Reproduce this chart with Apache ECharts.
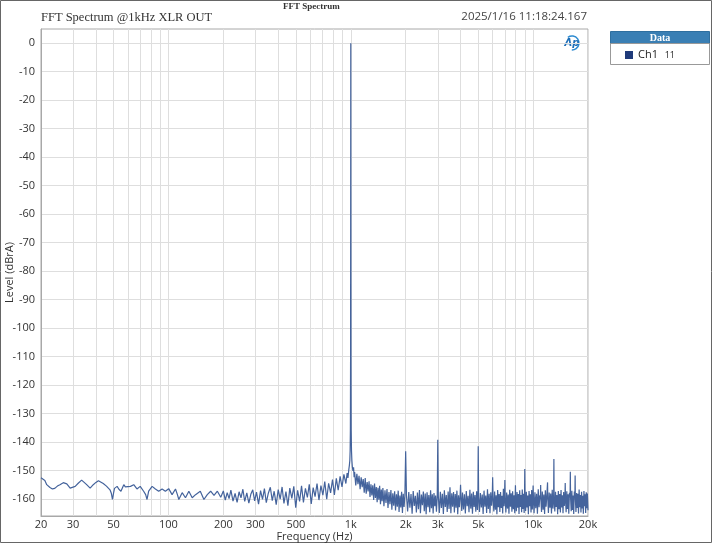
<!DOCTYPE html>
<html>
<head>
<meta charset="utf-8">
<script src="https://cdn.jsdelivr.net/npm/echarts@6.0.0/dist/echarts.min.js"></script>
<style>
html,body{margin:0;padding:0;background:#fff;}
#chart{width:713px;height:544px;}
</style>
</head>
<body>
<div id="chart"></div>
<script>
// ---- axis ticks ----
const xLabelTicks = [20, 30, 50, 100, 200, 300, 500, 1000, 2000, 3000, 5000, 10000, 20000];
const xGridTicks = [20, 30, 40, 50, 60, 70, 80, 90, 100, 200, 300, 400, 500, 600, 700, 800, 900,
  1000, 2000, 3000, 4000, 5000, 6000, 7000, 8000, 9000, 10000, 20000];
const yTicks = [0, -10, -20, -30, -40, -50, -60, -70, -80, -90, -100, -110, -120, -130, -140, -150, -160];

// ---- Ch1 spectrum, [frequency Hz, level dBrA] ----
const lowBand = [
  [20,-152.6],[21,-153.5],[21.5,-155],[22.4,-156],[23.1,-156.5],[23.8,-156.3],[24.6,-155.5],[25.4,-155],
  [26.5,-154.3],[27.7,-154.7],[28.9,-156.2],[29.5,-156.8],[30.8,-155.6],[32,-154.5],[33.4,-153.4],
  [34.5,-154.2],[35.6,-155],[37.2,-156.2],[38.7,-155],[40,-154.2],[41.3,-153.6],[42.2,-153.4],
  [43.9,-154.6],[45.7,-155.5],[47.8,-156.8],[48.6,-158],[49.3,-160.2],[50,-158],[50.6,-156.3],
  [52.3,-155.6],[53.5,-156.6],[54.9,-157.3],[56.9,-155],[58,-155.8],[59.3,-156.5],[61.9,-155.6],
  [64.5,-155],[67.2,-156.5],[70,-155.6],[73.1,-157.3],[75,-158.5],[76.3,-160.2],[77.9,-157.3],
  [81.4,-155.6],[84.8,-156.5],[88.4,-157.3],[92.3,-156.5],[96.2,-157.3],[100.3,-156.4],[104.7,-158.5],
  [109.3,-156.5],[112,-158.5],[114,-160.2],[118.9,-157.8],[124,-159.6],[129.4,-157.3],[135,-159.6],
  [140.8,-158.5],[149.5,-157.3],[156.5,-160.2],[163.3,-158.5],[170.4,-157.3],[177.8,-158.8],
  [185.5,-157.3],[193.6,-159.4]
];
const midBand = [
  [200,-157.2],[205,-160.4],[210,-157.8],[215,-159.9],[220,-156.9],[226,-160.8],[232,-158.1],[238,-161.2],
  [244,-157.5],[250,-159.6],[256,-156.6],[262,-160.9],[269,-157.9],[276,-161.5],[283,-158.4],[290,-156.8],
  [297,-160.7],[304,-157.6],[312,-161.8],[320,-157.1],[328,-160.2],[336,-156.4],[344,-161.3],[353,-158.0],
  [362,-155.9],[371,-160.6],[380,-157.3],[390,-162.0],[400,-156.7],[410,-160.1],[420,-155.8],[430,-161.6],
  [441,-157.4],[452,-162.4],[463,-156.2],[475,-159.8],[487,-155.6],[499,-163.1],[511,-157.0],[524,-160.9],
  [537,-155.4],[550,-161.2],[564,-156.3],[578,-159.5],[592,-154.9],[607,-161.8],[622,-156.0],[637,-159.2],
  [653,-154.6],[669,-160.4],[686,-155.3],[703,-158.7],[720,-153.9],[738,-160.1],[756,-154.5],[775,-157.9],
  [794,-153.2],[813,-158.6],[833,-152.8],[853,-156.9],[874,-152.1],[895,-155.8],[917,-151.4],[940,-154.6],
  [955,-150.9]
];
const fundamental = [
  [965,-152.6],[975,-149.8],[982,-148.3],[988,-146.5],[992,-143],[995,-136],[997.5,-110],[999,-50],
  [1000,0],[1001,-50],[1002.5,-110],[1005,-136],[1009,-143],[1014,-146.5],[1020,-148.7],[1028,-150.2],
  [1036,-148.9],[1043,-152.4]
];
const band1k2k = [
  [1050,-150.6],[1065,-155.3],[1080,-151.2],[1095,-154.8],[1110,-151.9],[1125,-156.6],[1140,-152.4],
  [1155,-155.9],[1170,-153.0],[1185,-157.8],[1200,-152.7],[1215,-158.2],[1230,-154.1],[1245,-157.4],
  [1260,-153.8],[1275,-159.3],[1290,-154.9],[1305,-158.8],[1320,-155.2],[1335,-160.4],[1350,-154.6],
  [1365,-159.7],[1380,-155.8],[1395,-161.2],[1410,-156.1],[1425,-160.3],[1440,-155.4],[1455,-161.9],
  [1470,-156.7],[1485,-160.8],[1500,-156.2],[1520,-162.6],[1540,-157.0],[1560,-161.4],[1580,-156.5],
  [1600,-163.2],[1620,-157.6],[1640,-161.9],[1660,-156.9],[1680,-163.8],[1700,-158.0],[1720,-162.4],
  [1740,-157.3],[1760,-164.1],[1780,-158.4],[1800,-162.7],[1820,-157.1],[1840,-164.6],[1860,-158.8],
  [1880,-163.0],[1900,-157.5],[1920,-164.9],[1940,-158.2],[1960,-162.8],[1980,-159.0]
];
const band2k5k = [
  [2000,-143.3],[2020,-158.7],[2050,-164.4],[2080,-157.6],[2110,-163.1],[2140,-158.3],[2170,-165.2],
  [2200,-157.2],[2230,-162.5],[2260,-158.9],[2290,-164.8],[2320,-157.8],[2350,-163.6],[2380,-156.9],
  [2410,-165.0],[2440,-158.5],[2470,-162.2],[2500,-157.4],[2530,-164.3],[2560,-158.1],[2590,-165.4],
  [2620,-157.7],[2650,-162.9],[2680,-158.6],[2710,-164.7],[2740,-157.0],[2770,-163.3],[2800,-158.4],
  [2830,-165.1],[2860,-157.9],[2890,-162.6],[2920,-158.8],[2950,-164.5],[2980,-159.2],[3000,-139.2],
  [3020,-158.9],[3060,-164.9],[3100,-157.5],[3140,-163.2],[3180,-158.2],[3220,-165.3],[3260,-157.0],
  [3300,-162.8],[3340,-158.6],[3380,-164.6],[3420,-157.4],[3460,-163.5],[3500,-155.9],[3540,-165.0],
  [3580,-158.0],[3620,-162.7],[3660,-157.6],[3700,-164.8],[3740,-158.3],[3780,-163.1],[3820,-157.1],
  [3860,-165.4],[3900,-158.7],[3940,-162.9],[3975,-159.3],[4000,-155.0],[4025,-159.6],[4060,-164.2],
  [4100,-157.8],[4150,-163.7],[4200,-158.4],[4250,-165.1],[4300,-157.2],[4350,-162.6],[4400,-158.9],
  [4450,-164.7],[4500,-156.8],[4550,-163.4],[4600,-158.1],[4650,-165.2],[4700,-157.5],[4750,-162.8],
  [4800,-158.6],[4850,-164.5],[4900,-157.3],[4950,-163.9],[4980,-159.4]
];
const band5k10k = [
  [5000,-141.5],[5025,-159.1],[5080,-164.6],[5140,-157.9],[5200,-163.0],[5260,-158.5],[5320,-165.3],
  [5380,-157.1],[5440,-162.7],[5500,-158.8],[5560,-164.9],[5620,-156.6],[5680,-163.5],[5740,-158.2],
  [5800,-165.0],[5860,-157.7],[5920,-162.4],[5970,-159.2],[6000,-152.4],[6030,-159.5],[6090,-164.4],
  [6150,-157.4],[6210,-163.8],[6270,-158.7],[6330,-165.4],[6390,-156.9],[6450,-162.9],[6510,-158.3],
  [6570,-164.6],[6630,-157.6],[6690,-163.2],[6750,-158.9],[6810,-165.1],[6870,-156.4],[6930,-162.6],
  [6970,-159.1],[7000,-153.4],[7030,-159.7],[7090,-164.8],[7160,-157.8],[7230,-163.4],[7300,-158.5],
  [7370,-165.2],[7440,-156.8],[7510,-162.7],[7580,-158.0],[7650,-164.5],[7720,-157.3],[7790,-163.6],
  [7860,-158.7],[7930,-165.0],[7975,-158.9],[8000,-155.2],[8025,-159.4],[8090,-164.3],[8160,-157.6],
  [8230,-163.1],[8300,-158.3],[8370,-165.3],[8440,-157.0],[8510,-162.8],[8580,-158.6],[8650,-164.7],
  [8720,-156.7],[8790,-163.5],[8860,-158.2],[8930,-164.9],[8970,-159.6],[9000,-149.5],[9030,-159.8],
  [9100,-164.2],[9180,-157.5],[9260,-163.0],[9340,-158.8],[9420,-165.4],[9500,-157.2],[9580,-162.6],
  [9660,-158.4],[9740,-164.8],[9820,-156.9],[9900,-163.7],[9970,-158.5]
];
const band10k20k = [
  [10000,-155.3],[10040,-159.3],[10120,-165.0],[10230,-157.7],[10340,-163.3],[10450,-158.2],[10560,-165.2],
  [10670,-156.6],[10780,-162.9],[10890,-158.7],[10970,-159.8],[11000,-155.1],[11030,-160.0],[11120,-164.6],
  [11230,-157.4],[11340,-163.8],[11450,-158.5],[11560,-165.3],[11670,-157.0],[11780,-162.7],[11890,-158.9],
  [11965,-159.2],[12000,-154.2],[12035,-159.6],[12130,-164.9],[12250,-157.8],[12370,-163.1],[12490,-158.1],
  [12610,-165.1],[12730,-156.8],[12850,-163.4],[12960,-159.3],[13000,-146.0],[13040,-159.5],[13150,-164.4],
  [13270,-157.5],[13390,-162.8],[13510,-158.6],[13630,-165.4],[13750,-157.2],[13870,-163.6],[13990,-158.3],
  [14110,-164.8],[14230,-156.9],[14350,-163.0],[14470,-158.7],[14590,-165.0],[14710,-157.6],[14830,-162.5],
  [14955,-159.1],[15000,-154.4],[15045,-159.4],[15170,-164.7],[15300,-157.3],[15430,-163.5],[15560,-158.4],
  [15690,-165.2],[15820,-157.8],[15950,-159.5],[16000,-150.5],[16050,-159.7],[16180,-164.3],[16310,-157.1],
  [16440,-163.9],[16570,-158.8],[16700,-165.3],[16830,-157.4],[16950,-159.6],[17000,-151.8],[17050,-159.9],
  [17180,-164.6],[17320,-157.9],[17460,-163.2],[17600,-158.2],[17740,-165.1],[17880,-156.7],[18020,-162.9],
  [18160,-158.6],[18300,-164.8],[18440,-157.5],[18580,-163.4],[18720,-158.9],[18860,-165.2],[19000,-157.2],
  [19140,-162.6],[19280,-158.4],[19420,-164.9],[19560,-157.7],[19700,-163.3],[19840,-158.1],[20000,-164.0]
];

const ch1 = lowBand.concat(midBand, fundamental, band1k2k, band2k5k, band5k10k, band10k20k);

const chart = echarts.init(document.getElementById('chart'), null, {renderer: 'canvas'});
const labelFont = '"Open Sans", "Noto Sans", sans-serif';

chart.setOption({
  animation: false,
  backgroundColor: '#fff',
  title: [
    {text: 'FFT Spectrum @1kHz XLR OUT', left: 41, top: 11, padding: 0,
     textStyle: {fontFamily: '"Liberation Serif", serif', fontSize: 12.5, fontWeight: 'normal', color: '#333'}},
    {text: 'FFT Spectrum', left: 283, top: 2, padding: 0,
     textStyle: {fontFamily: '"Liberation Serif", serif', fontSize: 9, fontWeight: 'bold', color: '#333'}},
    {text: '2025/1/16 11:18:24.167', right: 126, top: 11, padding: 0,
     textStyle: {fontFamily: labelFont, fontSize: 11.5, fontWeight: 'normal', color: '#444'}}
  ],
  grid: {left: 41, right: 125, top: 29, bottom: 28, show: true, borderColor: '#a8a8a8', borderWidth: 1,
    containLabel: false, outerBoundsMode: 'none'},
  legend: {
    left: 625, top: 49, itemWidth: 8, itemHeight: 8, icon: 'rect', itemGap: 4, padding: 0,
    data: [{name: 'Ch1', itemStyle: {color: '#1f3a7a'}}],
    formatter: () => '{a|Ch1}  {b|11}',
    textStyle: {rich: {a: {fontFamily: labelFont, fontSize: 11, color: '#222'}, b: {fontFamily: labelFont, fontSize: 9, color: '#222'}}},
    selectedMode: false
  },
  xAxis: {
    type: 'log', logBase: 10, min: 20, max: 20000,
    name: 'Frequency (Hz)', nameLocation: 'middle', nameGap: 15, nameMoveOverlap: false,
    nameTextStyle: {fontFamily: labelFont, fontSize: 11, color: '#333'},
    axisLine: {show: true, onZero: false, lineStyle: {color: '#a8a8a8'}},
    axisTick: {show: false, customValues: xGridTicks},
    axisLabel: {customValues: xLabelTicks, margin: 3, fontFamily: labelFont, fontSize: 11, color: '#333',
      formatter: v => v >= 1000 ? (v / 1000) + 'k' : String(v)},
    splitLine: {show: true, lineStyle: {color: '#dedede', width: 1}},
    minorSplitLine: {show: false}
  },
  yAxis: {
    type: 'value', min: -166, max: 5,
    name: 'Level (dBrA)', nameLocation: 'middle', nameGap: 26, nameMoveOverlap: false,
    nameTextStyle: {fontFamily: labelFont, fontSize: 11, color: '#333'},
    axisLine: {show: true, onZero: false, lineStyle: {color: '#a8a8a8'}},
    axisTick: {show: false, customValues: yTicks},
    axisLabel: {customValues: yTicks, margin: 6, fontFamily: labelFont, fontSize: 11, color: '#333'},
    splitLine: {show: true, lineStyle: {color: '#dedede', width: 1}}
  },
  series: [{
    name: 'Ch1', type: 'line', data: ch1, showSymbol: false, symbol: 'none',
    lineStyle: {color: '#44639c', width: 1.2}, itemStyle: {color: '#44639c'},
    clip: true, z: 3
  }],
  graphic: [
    {type: 'rect', shape: {x: 0.5, y: 0.5, width: 711, height: 542}, style: {fill: 'none', stroke: '#666', lineWidth: 1}, silent: true},
    {type: 'rect', shape: {x: 610.5, y: 31.5, width: 99, height: 12}, style: {fill: '#3a7fb4', stroke: '#2f6f9f', lineWidth: 1}, silent: true},
    {type: 'text', x: 660, y: 38, style: {text: 'Data', fill: '#fff', font: 'bold 10px "Liberation Serif", serif', textAlign: 'center', textVerticalAlign: 'middle'}, silent: true},
    {type: 'rect', shape: {x: 610.5, y: 43.5, width: 99, height: 21}, style: {fill: 'none', stroke: '#999', lineWidth: 1}, silent: true},
    {type: 'arc', shape: {cx: 572, cy: 43, r: 7, startAngle: -2.2, endAngle: 1.6}, style: {stroke: '#2d8ad0', lineWidth: 1.5, fill: 'none'}, silent: true},
    {type: 'text', x: 572, y: 43, style: {text: 'Ap', fill: '#1f6fb8', font: 'italic bold 10px "DejaVu Sans", sans-serif', textAlign: 'center', textVerticalAlign: 'middle'}, silent: true}
  ]
});
</script>
</body>
</html>
